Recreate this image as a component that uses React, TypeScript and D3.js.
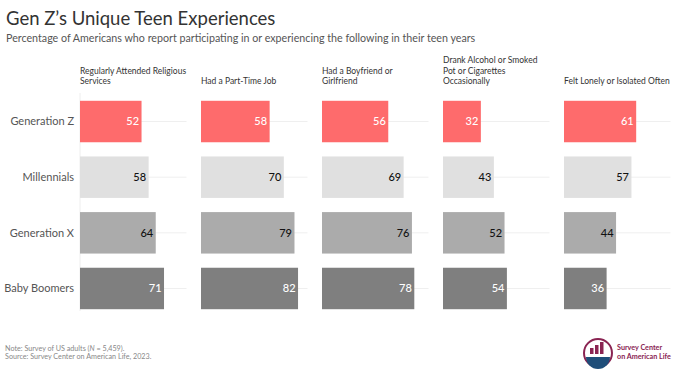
import React from "react";
import * as d3 from "d3";

const generations = ["Generation Z", "Millennials", "Generation X", "Baby Boomers"];
const experienceHeaders = [
  ["Regularly Attended Religious", "Services"],
  ["Had a Part-Time Job"],
  ["Had a Boyfriend or", "Girlfriend"],
  ["Drank Alcohol or Smoked", "Pot or Cigarettes", "Occasionally"],
  ["Felt Lonely or Isolated Often"],
];
const genZValues = [52, 58, 56, 32, 61];
const millennialValues = [58, 70, 69, 43, 57];
const genXValues = [64, 79, 76, 52, 44];
const boomerValues = [71, 82, 78, 54, 36];
const seriesValues = [genZValues, millennialValues, genXValues, boomerValues];

const barColors = ["#fe6b6c", "#e0e0e0", "#ababab", "#7f7f7f"];
const labelColors = ["#ffffff", "#111111", "#111111", "#ffffff"];

const W = 679;
const H = 382;
const FONT = "Lato, 'Noto Sans', sans-serif";

export default function App() {
  const panelStart = 80;
  const panelStride = 121;
  const panelWidth = 106.5;
  const x = d3.scaleLinear().domain([0, 90]).range([0, panelWidth]);
  const y = d3
    .scaleBand<string>()
    .domain(generations)
    .range([93, 317])
    .paddingInner(0.255)
    .paddingOuter(0.14);

  return (
    <svg
      width={W}
      height={H}
      style={{ position: "absolute", left: 0, top: 0, background: "#fff" }}
      fontFamily={FONT}
    >
      <text x={6} y={25} fontSize={18.5} fill="#333">
        Gen Z’s Unique Teen Experiences
      </text>
      <text x={6} y={42} fontSize={10.7} fill="#555">
        Percentage of Americans who report participating in or experiencing the following in their teen years
      </text>

      {/* vertical axis line */}
      <line x1={panelStart} x2={panelStart} y1={93} y2={311} stroke="#eeeeee" strokeWidth={1} />

      {generations.map((g) => (
        <text
          key={g}
          x={74}
          y={y(g)! + y.bandwidth() / 2}
          dy="0.35em"
          textAnchor="end"
          fontSize={11}
          fill="#555"
        >
          {g}
        </text>
      ))}

      {experienceHeaders.map((lines, i) => {
        const px = panelStart + i * panelStride;
        return (
          <g key={i}>
            {lines.map((ln, j) => (
              <text
                key={j}
                x={px}
                y={84 - (lines.length - 1 - j) * 10.5}
                fontSize={8.5}
                fill="#333"
              >
                {ln}
              </text>
            ))}
            {generations.map((g, gi) => {
              const v = seriesValues[gi][i];
              const cy = y(g)! + y.bandwidth() / 2;
              return (
                <g key={g}>
                  <line
                    x1={px}
                    x2={px + panelWidth}
                    y1={cy}
                    y2={cy}
                    stroke="#efefef"
                    strokeWidth={1}
                  />
                  <rect
                    x={px}
                    y={y(g)!}
                    width={x(v)}
                    height={y.bandwidth()}
                    fill={barColors[gi]}
                  />
                  <text
                    x={px + x(v) - 2.5}
                    y={cy}
                    dy="0.35em"
                    textAnchor="end"
                    fontSize={11}
                    fontWeight={500}
                    fill={labelColors[gi]}
                  >
                    {v}
                  </text>
                </g>
              );
            })}
          </g>
        );
      })}

      <text x={5} y={350.5} fontSize={7.2} fill="#888">
        Note: Survey of US adults (<tspan fontStyle="italic">N</tspan> = 5,459).
      </text>
      <text x={5} y={359} fontSize={7.2} fill="#888">
        Source: Survey Center on American Life, 2023.
      </text>

      {/* logo */}
      <g>
        <circle cx={598} cy={353} r={14} fill="none" stroke="#8a2452" strokeWidth={2} />
        <path d="M 586 357 A 12 12 0 0 0 610 357 Z" fill="#1f4e79" />
        <rect x={590} y={348} width={3.5} height={6} fill="#8a2452" />
        <rect x={595} y={345} width={3.5} height={9} fill="#8a2452" />
        <rect x={600} y={342} width={3.5} height={12} fill="#8a2452" />
        <text x={617} y={350} fontSize={7.2} fontWeight={700} fill="#8a2452">
          Survey Center
        </text>
        <text x={617} y={358.5} fontSize={7.2} fontWeight={700} fill="#8a2452">
          on American Life
        </text>
      </g>
    </svg>
  );
}
